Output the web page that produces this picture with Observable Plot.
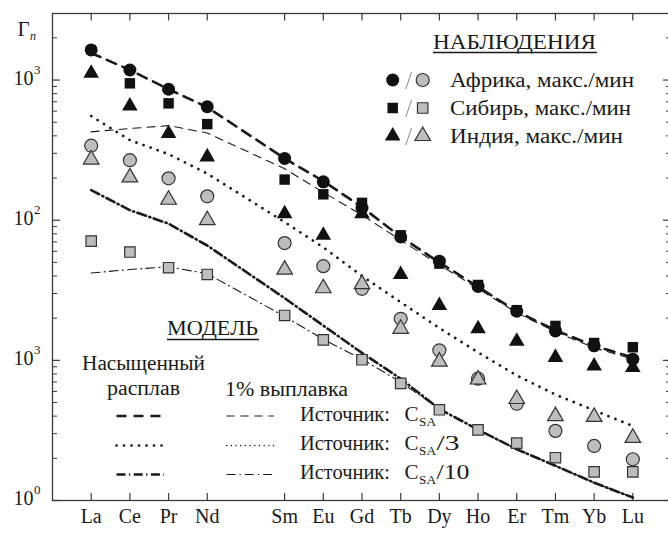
<!DOCTYPE html>
<html><head><meta charset="utf-8">
<script src="https://cdn.jsdelivr.net/npm/d3@7"></script>
<script src="https://cdn.jsdelivr.net/npm/@observablehq/plot@0.6"></script>
<style>
body{margin:0;background:#fff;}
#chart svg{display:block;}
</style></head><body><div id="chart"></div>
<script>
// ---- categories (Pm slot at position 4 left empty) ----
const elements = ["La","Ce","Pr","Nd","Sm","Eu","Gd","Tb","Dy","Ho","Er","Tm","Yb","Lu"];
const positions = [0,1,2,3,5,6,7,8,9,10,11,12,13,14];

// ---- observations (chondrite-normalised) ----
const africaMax  = [1640,1180,860,645,276,188,122,76,51,33.7,22.4,16.2,12.7,10.2];
const africaMin  = [340,268,199,148,68.7,47,32.4,19.8,11.8,7.4,4.9,3.14,2.45,1.97];
const siberiaMax = [null,948,682,485,195,153,133,78,49,34.5,22.8,17.6,13.3,12.4];
const siberiaMin = [71,59.3,45.8,41,20.9,14,10.1,6.85,4.44,3.19,2.57,2.02,1.6,1.6];
const indiaMax   = [1119,653,416,283,111,78,111,41,24.6,16.8,13.7,10.5,9.1,8.9];
const indiaMin   = [271,202,140,100,44.4,32.7,35,16.8,9.8,7.3,5.3,4.0,3.95,2.8];

// ---- model curves ----
const satCSA     = [1560,1180,860,640,276,190,124,76,50,33.5,22.3,16.4,12.7,10.5];
const satCSA3    = [553,373,296,215,97,64,40,26,17,11.4,7.8,5.7,4.4,3.4];
const satCSA10   = [164,118,94.5,66,27.8,17.7,11.3,7.4,4.5,3.2,2.32,1.77,1.34,1.05];
const meltCSA    = [427,451,473,419,233,158,109,72,48,32.5,21.8,16,12.3,10.2];
const meltCSA10  = [42,44.5,46.5,41.5,20.6,14.1,10.2,7.0,4.5,3.2,2.32,1.77,1.34,1.05];

// ---- axis ticks ----
const yMajor = [1,10,100,1000];
const yExp   = ["0","3","2","3"];
const yMinor = [1,10,100,1000].flatMap(d => [2,3,4,5,6,7,8,9].map(k => k*d)).filter(v => v < 2985);

const FONT = "'Liberation Serif', 'DejaVu Serif', serif";
const W = 668, H = 533, ML = 52, MT = 13, MR = -3, MB = 33;
const PW = W - ML - MR, PH = H - MT - MB;
const INK = "#1a1a1a", AX = "#3a3a3a", GRAY = "#bdbdbd";

const series = vals => elements.map((el, i) => ({el, pos: positions[i], v: vals[i]})).filter(d => d.v != null);

const dotBlack = (vals, symbol, r) => Plot.dot(series(vals), {x: "pos", y: "v", symbol, r, fill: "#111", stroke: "none"});
const dotGray  = (vals, symbol, r) => Plot.dot(series(vals), {x: "pos", y: "v", symbol, r, fill: GRAY, stroke: "#333", strokeWidth: 1.2});

const STY = {
  satCSA:  {strokeWidth: 2.6, strokeDasharray: "10,7"},
  satCSA3: {strokeWidth: 2.7, strokeDasharray: "0.1,7.4", strokeLinecap: "round"},
  satCSA10:{strokeWidth: 2.6, strokeDasharray: "9,3.5,1.2,3.5"},
  melt:    {strokeWidth: 1.1, strokeDasharray: "8,6"},
  melt3:   {strokeWidth: 1.4, strokeDasharray: "0.1,4.6", strokeLinecap: "round"},
  melt10:  {strokeWidth: 1.1, strokeDasharray: "9,4,1.3,4"}
};
const lineMark = (vals, sty) => Plot.line(series(vals), {x: "pos", y: "v", stroke: INK, fill: "none", ...sty});

// ---- legend (custom render, pixel layout) ----
function legendMark() {
  return () => {
    const g = d3.create("svg:g").style("font-family", FONT).attr("fill", INK);
    const txt = (s, x, y, size, len, anchor = "start") => {
      const t = g.append("text").attr("x", x).attr("y", y).attr("font-size", size).attr("text-anchor", anchor).text(s);
      if (len) t.attr("textLength", len).attr("lengthAdjust", "spacingAndGlyphs");
      return t;
    };
    const hline = (x1, x2, y, sty) => g.append("line").attr("x1", x1).attr("x2", x2).attr("y1", y).attr("y2", y)
      .attr("stroke", INK).attr("stroke-width", sty.strokeWidth).attr("stroke-dasharray", sty.strokeDasharray || null)
      .attr("stroke-linecap", sty.strokeLinecap || null);
    const sym = (type, r, x, y, gray) => g.append("path")
      .attr("d", d3.symbol(type, r * r * Math.PI)()).attr("transform", `translate(${x},${y})`)
      .attr("fill", gray ? GRAY : "#111").attr("stroke", gray ? "#333" : "none").attr("stroke-width", 1.2);

    // observations
    txt("НАБЛЮДЕНИЯ", 433, 48.5, 20, 163);
    g.append("line").attr("x1", 433).attr("x2", 597).attr("y1", 52.5).attr("y2", 52.5).attr("stroke", INK).attr("stroke-width", 1.3);
    const rows = [
      {label: "Африка, макс./мин", type: d3.symbolCircle, r: 6.5, y: 80, len: 184},
      {label: "Сибирь, макс./мин", type: d3.symbolSquare, r: 5.9, y: 108, len: 181},
      {label: "Индия, макс./мин", type: d3.symbolTriangle, r: 5.8, y: 136, len: 173}
    ];
    rows.forEach(rw => {
      sym(rw.type, rw.r, 392.7, rw.y, false);
      sym(rw.type, rw.r, 422.7, rw.y, true);
      g.append("line").attr("x1", 411.5).attr("x2", 405.8).attr("y1", rw.y - 8).attr("y2", rw.y + 9)
        .attr("stroke", "#888").attr("stroke-width", 1);
      txt(rw.label, 450, rw.y + 6.5, 20, rw.len);
    });

    // model
    txt("МОДЕЛЬ", 167, 335, 20, 91);
    g.append("line").attr("x1", 167).attr("x2", 259).attr("y1", 339.5).attr("y2", 339.5).attr("stroke", INK).attr("stroke-width", 1.3);
    txt("Насыщенный", 82, 369.5, 20, 123);
    txt("расплав", 107, 395, 20, 73);
    txt("1% выплавка", 225, 396, 20, 123);
    const mrows = [
      {y: 416, thick: STY.satCSA, thin: STY.melt, sub: ""},
      {y: 445.5, thick: STY.satCSA3, thin: STY.melt3, sub: "/3"},
      {y: 474.5, thick: STY.satCSA10, thin: STY.melt10, sub: "/10"}
    ];
    mrows.forEach((m, i) => {
      hline(116.5, 164, m.y, m.thick);
      hline(226.5, 274, m.y, m.thin);
      const by = 421 + i * 29;
      txt("Источник:", 300, by, 20, 90);
      txt("C", 404.5, by, 20, 14);
      txt("SA", 419, by + 5, 12.5, 17);
      if (m.sub) txt(m.sub, 436.5, by, 20, m.sub === "/3" ? 23 : 33);
    });
    return g.node();
  };
}

const plot = Plot.plot({
  width: W, height: H,
  marginLeft: ML, marginTop: MT, marginRight: MR, marginBottom: MB,
  style: {fontFamily: FONT, fontSize: "20px", color: INK, background: "#fff"},
  x: {type: "linear", domain: [-1, 15], axis: null},
  y: {type: "log", domain: [1, 2985], axis: null},
  marks: [
    // axis frame lines
    Plot.frame({stroke: AX, strokeWidth: 1.3}),
    // ticks, all pointing inward
    Plot.tickX(positions, {x: d => d, insetTop: PH - 7, stroke: AX, strokeWidth: 1.2}),
    Plot.tickX(positions, {x: d => d, insetBottom: PH - 7.5, stroke: AX, strokeWidth: 1.2}),
    Plot.tickY(yMajor, {y: d => d, insetRight: PW - 8, stroke: AX, strokeWidth: 1.2}),
    Plot.tickY(yMinor, {y: d => d, insetRight: PW - 5, stroke: AX, strokeWidth: 1}),
    Plot.tickY(yMajor, {y: d => d, insetLeft: PW - 8, stroke: AX, strokeWidth: 1.2}),
    Plot.tickY(yMinor, {y: d => d, insetLeft: PW - 5, stroke: AX, strokeWidth: 1}),
    // tick labels
    Plot.text(elements, {x: (d, i) => positions[i], text: d => d, frameAnchor: "bottom", dy: 22, fontSize: 20, fill: INK}),
    Plot.text(yMajor, {y: d => d, text: () => "10", frameAnchor: "left", dx: -19, dy: -1.5, textAnchor: "end", fontSize: 20, fill: INK}),
    Plot.text(yMajor, {y: d => d, text: (d, i) => yExp[i], frameAnchor: "left", dx: -18.5, dy: -10.5, textAnchor: "start", fontSize: 13, fill: INK}),
    Plot.text(["Γ"], {frameAnchor: "top-left", dx: -35, dy: 8, textAnchor: "start", fontSize: 21, fill: INK}),
    Plot.text(["n"], {frameAnchor: "top-left", dx: -22.5, dy: 18, textAnchor: "start", fontSize: 12, fontStyle: "italic", fill: INK}),
    // model curves
    lineMark(meltCSA, STY.melt),
    lineMark(meltCSA10, STY.melt10),
    lineMark(satCSA, STY.satCSA),
    lineMark(satCSA3, STY.satCSA3),
    lineMark(satCSA10, STY.satCSA10),
    // observations
    dotGray(africaMin, "circle", 6.5),
    dotGray(siberiaMin, "square", 5.9),
    dotGray(indiaMin, "triangle", 5.8),
    dotBlack(indiaMax, "triangle", 5.8),
    dotBlack(africaMax, "circle", 6.5),
    dotBlack(siberiaMax, "square", 5.9),
    // legends
    legendMark()
  ]
});
document.getElementById("chart").append(plot);
</script>
</body></html>
